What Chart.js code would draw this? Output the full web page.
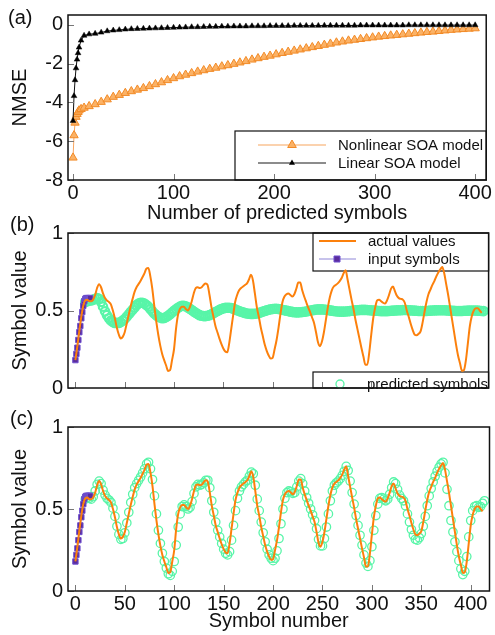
<!DOCTYPE html>
<html lang="en">
<head>
<meta charset="UTF-8">
<title>SOA model symbol prediction</title>
<script src="https://cdn.jsdelivr.net/npm/chart.js"></script>
<style>
  body { margin: 0; background: #fff; }
  #wrap { position: relative; width: 495px; height: 635px; overflow: hidden; }
  .panel { position: absolute; left: 0; }
  .tag { position: absolute; font: 20px "Liberation Sans", Arial, sans-serif; line-height: 20px; color: #111; }
</style>
</head>
<body>
<div id="wrap">
  <canvas id="chartA" class="panel" style="top:0" width="495" height="226"></canvas>
  <canvas id="chartB" class="panel" style="top:218px" width="495" height="185"></canvas>
  <canvas id="chartC" class="panel" style="top:412px" width="495" height="223"></canvas>
  <div class="tag" style="left:8px;top:7px">(a)</div>
  <div class="tag" style="left:10px;top:214px">(b)</div>
  <div class="tag" style="left:10px;top:408px">(c)</div>
</div>
<script>
// ---- panel (a): NMSE vs number of predicted symbols ----
const nmseX = [0, 1, 2, 3, 4, 5, 6, 8, 11,
  16, 22, 28, 34, 40, 46, 52, 58, 64, 70, 76, 82, 88, 94, 100, 106, 112, 118, 124, 130,
  136, 142, 148, 154, 160, 166, 172, 178, 184, 190, 196, 202, 208, 214, 220, 226, 232, 238, 244, 250,
  256, 262, 268, 274, 280, 286, 292, 298, 304, 310, 316, 322, 328, 334, 340, 346, 352, 358, 364, 370,
  376, 382, 388, 394, 400];
const nonlinearNmse = [-6.85, -5.7, -5.05, -4.75, -4.6, -4.5, -4.42, -4.35, -4.28,
  -4.2, -4.1, -3.98, -3.85, -3.72, -3.62, -3.52, -3.43, -3.35, -3.27,
  -3.17, -3.07, -2.97, -2.86, -2.76, -2.66, -2.58, -2.5, -2.42, -2.35,
  -2.28, -2.22, -2.15, -2.09, -2.02, -1.95, -1.88, -1.8, -1.73, -1.66,
  -1.6, -1.53, -1.46, -1.4, -1.34, -1.28, -1.22, -1.16, -1.1, -1.04,
  -0.98, -0.92, -0.87, -0.82, -0.78, -0.74, -0.7, -0.66, -0.62, -0.59,
  -0.56, -0.53, -0.5, -0.47, -0.44, -0.41, -0.38, -0.36, -0.33, -0.3,
  -0.27, -0.25, -0.23, -0.21, -0.19];
const linearNmse = [-4.95, -3.67, -2.85, -2.24, -1.79, -1.46, -1.17, -0.81, -0.56,
  -0.49, -0.46, -0.4, -0.33, -0.29, -0.27, -0.24, -0.22, -0.21, -0.2,
  -0.19, -0.18, -0.17, -0.16, -0.15, -0.14, -0.13, -0.12, -0.12, -0.11,
  -0.1, -0.1, -0.09, -0.09, -0.08, -0.08, -0.08, -0.07, -0.07, -0.07,
  -0.06, -0.06, -0.06, -0.06, -0.05, -0.05, -0.05, -0.05, -0.05, -0.04,
  -0.04, -0.04, -0.04, -0.04, -0.04, -0.03, -0.03, -0.03, -0.03, -0.03,
  -0.03, -0.03, -0.03, -0.02, -0.02, -0.02, -0.02, -0.02, -0.02, -0.02,
  -0.02, -0.02, -0.02, -0.02, -0.02];
const nmseXTicks = [0, 100, 200, 300, 400];
const nmseYTicks = [-8, -6, -4, -2, 0];

// ---- panels (b) and (c): symbol values ----
// actual values, every 2nd symbol starting at symbol 0
const actualValues = [
  0.18, 0.27, 0.37, 0.46, 0.53, 0.565, 0.57, 0.56, 0.56, 0.57,
  0.60, 0.645, 0.67, 0.65, 0.61, 0.58, 0.565, 0.555, 0.54, 0.50,
  0.45, 0.39, 0.345, 0.32, 0.33, 0.36, 0.415, 0.47, 0.525, 0.575,
  0.62, 0.65, 0.67, 0.69, 0.715, 0.74, 0.77, 0.775, 0.72, 0.64,
  0.53, 0.43, 0.345, 0.275, 0.22, 0.18, 0.145, 0.11, 0.115, 0.18,
  0.25, 0.38, 0.47, 0.51, 0.525, 0.525, 0.51, 0.50, 0.52, 0.56,
  0.61, 0.645, 0.65, 0.645, 0.65, 0.665, 0.675, 0.665, 0.60, 0.52,
  0.46, 0.40, 0.36, 0.32, 0.285, 0.255, 0.235, 0.23, 0.29, 0.38,
  0.47, 0.555, 0.60, 0.63, 0.645, 0.655, 0.665, 0.675, 0.70, 0.73,
  0.695, 0.61, 0.52, 0.46, 0.39, 0.335, 0.28, 0.24, 0.21, 0.19,
  0.195, 0.25, 0.31, 0.39, 0.48, 0.555, 0.59, 0.605, 0.61, 0.60,
  0.59, 0.605, 0.64, 0.68, 0.68, 0.63, 0.59, 0.555, 0.52, 0.49,
  0.455, 0.42, 0.36, 0.295, 0.27, 0.30, 0.36, 0.44, 0.52, 0.585,
  0.63, 0.655, 0.665, 0.675, 0.69, 0.71, 0.74, 0.76, 0.70, 0.635,
  0.57, 0.51, 0.44, 0.38, 0.32, 0.26, 0.205, 0.15, 0.15, 0.23,
  0.345, 0.45, 0.52, 0.565, 0.57, 0.56, 0.55, 0.545, 0.565, 0.60,
  0.64, 0.655, 0.625, 0.595, 0.58, 0.575, 0.57, 0.55, 0.50, 0.46,
  0.415, 0.375, 0.345, 0.34, 0.35, 0.365, 0.42, 0.49, 0.555, 0.605,
  0.635, 0.665, 0.69, 0.72, 0.745, 0.765, 0.78, 0.74, 0.67, 0.60,
  0.52, 0.44, 0.36, 0.28, 0.21, 0.16, 0.11, 0.115, 0.18, 0.29,
  0.40, 0.465, 0.50, 0.515, 0.515, 0.50, 0.485];
// input symbols, symbols 0..15
const inputSymbols = [0.18, 0.22, 0.26, 0.31, 0.36, 0.40, 0.45, 0.49, 0.53, 0.56, 0.575, 0.58, 0.58, 0.58, 0.58, 0.58];
// predicted symbols, every 2nd symbol starting at symbol 10
const predictedB = [
  0.555, 0.56, 0.565, 0.565, 0.57, 0.575, 0.58, 0.575, 0.555, 0.525,
  0.495, 0.47, 0.45, 0.435, 0.425, 0.42, 0.42, 0.42, 0.425, 0.435,
  0.445, 0.46, 0.475, 0.49, 0.505, 0.52, 0.535, 0.545, 0.55, 0.55,
  0.545, 0.535, 0.525, 0.51, 0.495, 0.48, 0.47, 0.46, 0.455, 0.45,
  0.452, 0.458, 0.466, 0.476, 0.487, 0.498, 0.508, 0.518, 0.525, 0.53,
  0.53, 0.527, 0.52, 0.512, 0.503, 0.494, 0.485, 0.477, 0.47, 0.466,
  0.464, 0.464, 0.466, 0.47, 0.476, 0.483, 0.49, 0.497, 0.504, 0.51,
  0.514, 0.517, 0.518, 0.518, 0.516, 0.512, 0.507, 0.502, 0.497, 0.492,
  0.488, 0.484, 0.481, 0.479, 0.478, 0.478, 0.479, 0.481, 0.484, 0.488,
  0.493, 0.497, 0.501, 0.505, 0.508, 0.51, 0.511, 0.511, 0.51, 0.508,
  0.505, 0.502, 0.499, 0.496, 0.493, 0.491, 0.489, 0.488, 0.488, 0.489,
  0.49, 0.492, 0.494, 0.497, 0.5, 0.502, 0.504, 0.506, 0.507, 0.507,
  0.507, 0.506, 0.505, 0.503, 0.501, 0.499, 0.497, 0.495, 0.494, 0.493,
  0.493, 0.493, 0.494, 0.495, 0.496, 0.498, 0.499, 0.501, 0.502, 0.503,
  0.504, 0.504, 0.504, 0.503, 0.502, 0.501, 0.5, 0.499, 0.498, 0.497,
  0.496, 0.496, 0.496, 0.496, 0.497, 0.498, 0.499, 0.5, 0.501, 0.502,
  0.502, 0.503, 0.503, 0.503, 0.502, 0.501, 0.5, 0.499, 0.498, 0.497,
  0.497, 0.497, 0.497, 0.497, 0.498, 0.499, 0.5, 0.501, 0.501, 0.502,
  0.502, 0.502, 0.502, 0.501, 0.5, 0.499, 0.498, 0.498, 0.497, 0.497,
  0.497, 0.497, 0.498, 0.498, 0.499, 0.5, 0.5, 0.5, 0.5, 0.499,
  0.498, 0.497, 0.496];
const predictedC = [
  0.56, 0.57, 0.565, 0.56, 0.575, 0.61, 0.65, 0.67, 0.655, 0.615,
  0.585, 0.565, 0.555, 0.54, 0.505, 0.455, 0.395, 0.345, 0.315, 0.32,
  0.355, 0.415, 0.48, 0.54, 0.59, 0.63, 0.655, 0.675, 0.695, 0.72,
  0.745, 0.775, 0.785, 0.745, 0.68, 0.58, 0.47, 0.37, 0.29, 0.23,
  0.18, 0.14, 0.105, 0.095, 0.12, 0.18, 0.28, 0.39, 0.47, 0.515,
  0.525, 0.515, 0.50, 0.51, 0.545, 0.595, 0.635, 0.65, 0.645, 0.65,
  0.66, 0.675, 0.675, 0.63, 0.55, 0.48, 0.42, 0.37, 0.33, 0.29,
  0.255, 0.23, 0.22, 0.24, 0.31, 0.40, 0.49, 0.565, 0.61, 0.635,
  0.65, 0.665, 0.675, 0.70, 0.725, 0.715, 0.645, 0.56, 0.49, 0.42,
  0.355, 0.30, 0.255, 0.22, 0.20, 0.185, 0.20, 0.245, 0.32, 0.41,
  0.50, 0.565, 0.60, 0.61, 0.605, 0.595, 0.60, 0.635, 0.67, 0.685,
  0.655, 0.61, 0.57, 0.535, 0.50, 0.465, 0.43, 0.38, 0.315, 0.275,
  0.275, 0.32, 0.39, 0.47, 0.55, 0.61, 0.645, 0.66, 0.67, 0.685,
  0.705, 0.73, 0.76, 0.735, 0.67, 0.60, 0.53, 0.46, 0.40, 0.34,
  0.28, 0.22, 0.17, 0.15, 0.185, 0.27, 0.37, 0.46, 0.53, 0.565,
  0.57, 0.56, 0.55, 0.56, 0.59, 0.63, 0.665, 0.655, 0.62, 0.585,
  0.565, 0.55, 0.52, 0.47, 0.42, 0.375, 0.34, 0.315, 0.31, 0.325,
  0.35, 0.395, 0.455, 0.52, 0.58, 0.625, 0.665, 0.70, 0.73, 0.755,
  0.775, 0.785, 0.72, 0.62, 0.52, 0.43, 0.36, 0.30, 0.24, 0.185,
  0.135, 0.10, 0.12, 0.21, 0.33, 0.43, 0.49, 0.515, 0.52, 0.51,
  0.515, 0.535, 0.55];
const symbolTicks = [0, 50, 100, 150, 200, 250, 300, 350, 400];
const valueTicks = [0, 0.5, 1];

const FONT = '"Liberation Sans", Arial, sans-serif';
const ORANGE = '#fc800c';
const GREEN = '#58f5a8';

const pts = (vals, start, step) => vals.map((v, i) => ({ x: start + i * step, y: v }));

function mark(ctx, style, x, y, r, fill, stroke, lw) {
  ctx.beginPath();
  if (style === 'triangle') {
    ctx.moveTo(x, y - r);
    ctx.lineTo(x + r * 0.866, y + r / 2);
    ctx.lineTo(x - r * 0.866, y + r / 2);
    ctx.closePath();
  } else if (style === 'rect') {
    ctx.rect(x - r, y - r, 2 * r, 2 * r);
  } else {
    ctx.arc(x, y, r, 0, Math.PI * 2);
  }
  if (fill) { ctx.fillStyle = fill; ctx.fill(); }
  if (stroke) { ctx.strokeStyle = stroke; ctx.lineWidth = lw || 1; ctx.stroke(); }
}

// frame, inward tick marks and hand placed legend boxes
const frame = {
  id: 'frame',
  beforeDatasetsDraw(chart, args, opts) {
    const ctx = chart.ctx, a = chart.chartArea;
    ctx.save();
    (opts.boxes || []).forEach(b => {
      ctx.strokeStyle = '#111';
      ctx.lineWidth = 1.2;
      ctx.strokeRect(b.x0, b.y0 ?? a.top, a.right - b.x0, (b.y1 ?? a.bottom) - (b.y0 ?? a.top));
      b.items.forEach(it => {
        if (it.line) {
          ctx.strokeStyle = it.line;
          ctx.lineWidth = it.lw || 1;
          ctx.beginPath();
          ctx.moveTo(it.l0, it.y);
          ctx.lineTo(it.l1, it.y);
          ctx.stroke();
        }
        if (it.style) mark(ctx, it.style, it.mx, it.y, it.r, it.fill, it.stroke, it.mlw);
        ctx.fillStyle = '#111';
        ctx.font = (b.size || 15) + 'px ' + FONT;
        ctx.textBaseline = 'middle';
        ctx.textAlign = 'left';
        ctx.fillText(it.text, it.tx, it.y + 1);
      });
    });
    ctx.restore();
  },
  afterDatasetsDraw(chart) {
    const ctx = chart.ctx, a = chart.chartArea;
    const x = chart.scales.x, y = chart.scales.y;
    ctx.save();
    ctx.strokeStyle = '#777';
    ctx.lineWidth = 1;
    ctx.beginPath();
    x.ticks.forEach(t => {
      const px = Math.round(x.getPixelForValue(t.value)) + 0.5;
      ctx.moveTo(px, a.bottom);
      ctx.lineTo(px, a.bottom - 6);
    });
    y.ticks.forEach(t => {
      const py = Math.round(y.getPixelForValue(t.value)) + 0.5;
      ctx.moveTo(a.left, py);
      ctx.lineTo(a.left + 6, py);
    });
    ctx.stroke();
    ctx.strokeStyle = '#111';
    ctx.lineWidth = 1.5;
    ctx.strokeRect(a.left, a.top, a.right - a.left, a.bottom - a.top);
    ctx.restore();
  }
};

function axes(o) {
  return {
    x: {
      type: 'linear', min: o.xmin, max: o.xmax,
      grid: { display: false, drawTicks: false }, border: { display: false },
      afterBuildTicks: s => { s.ticks = o.xticks.map(v => ({ value: v })); },
      afterFit: s => { s.height = o.xh; },
      ticks: { display: o.xlabels, color: '#111', padding: 3, maxRotation: 0, autoSkip: false,
               callback: v => String(v), font: { family: FONT, size: 20, lineHeight: 1 } },
      title: { display: !!o.xtitle, text: o.xtitle, color: '#111', padding: { top: 0, bottom: o.tpad || 0 },
               font: { family: FONT, size: 20, lineHeight: 1.2 } }
    },
    y: {
      min: o.ymin, max: o.ymax,
      grid: { display: false, drawTicks: false }, border: { display: false },
      afterBuildTicks: s => { s.ticks = o.yticks.map(v => ({ value: v })); },
      afterFit: s => { s.width = 68; },
      ticks: { color: '#111', padding: 5, callback: v => String(v),
               font: { family: FONT, size: 20, lineHeight: 1 } },
      title: { display: true, text: o.ytitle, color: '#111', padding: { top: 8, bottom: 0 },
               font: { family: FONT, size: 20, lineHeight: 1.2 } }
    }
  };
}

const base = {
  responsive: false,
  animation: false,
  events: [],
  plugins: { legend: { display: false }, tooltip: { enabled: false } }
};

// (a)
new Chart(document.getElementById('chartA'), {
  type: 'line',
  data: {
    datasets: [
      { data: nmseX.map((v, i) => ({ x: v, y: nonlinearNmse[i] })), borderColor: '#f8a55e', borderWidth: 1,
        pointStyle: 'triangle', pointRadius: 4.8, pointBackgroundColor: '#fbb266', pointBorderColor: '#f28a26',
        pointBorderWidth: 1, order: 2 },
      { data: nmseX.map((v, i) => ({ x: v, y: linearNmse[i] })), borderColor: '#111', borderWidth: 1,
        pointStyle: 'triangle', pointRadius: 3.3, pointBackgroundColor: '#000', pointBorderColor: '#000',
        pointBorderWidth: 0.5, order: 1 }
    ]
  },
  options: Object.assign({}, base, {
    layout: { padding: { top: 8, right: 6, left: 0, bottom: 0 } },
    plugins: Object.assign({}, base.plugins, {
      frame: { boxes: [{ x0: 235, y0: 131, size: 15, items: [
        { y: 145, text: 'Nonlinear SOA model', line: '#f8a55e', lw: 1.2, l0: 258, l1: 326,
          style: 'triangle', mx: 292, r: 5, fill: '#fbb266', stroke: '#f28a26', tx: 338 },
        { y: 163, text: 'Linear SOA model', line: '#666', lw: 1.5, l0: 258, l1: 326,
          style: 'triangle', mx: 292, r: 3.5, fill: '#000', tx: 338 }
      ] }] }
    }),
    scales: axes({ xmin: -5, xmax: 411, xticks: nmseXTicks, xh: 46, xlabels: true,
                   xtitle: 'Number of predicted symbols', tpad: 1,
                   ymin: -8, ymax: 0.5, yticks: nmseYTicks, ytitle: 'NMSE' })
  }),
  plugins: [frame]
});

function symbolSets(pred, ringWidth) {
  return [
    { data: pts(actualValues, 0, 2), borderColor: ORANGE, borderWidth: 2, pointRadius: 0,
      cubicInterpolationMode: 'monotone', order: 1 },
    { data: pts(inputSymbols, 0, 1), borderColor: '#8f86d8', borderWidth: 1, pointStyle: 'rect',
      pointRadius: 3.8, pointBackgroundColor: '#5a2c9e', pointBorderColor: '#6e4fce', pointBorderWidth: 1, order: 2 },
    { data: pts(pred, 10, 2), showLine: false, pointStyle: 'circle', pointRadius: 4.2,
      pointBackgroundColor: 'rgba(0,0,0,0)', pointBorderColor: GREEN, pointBorderWidth: ringWidth, order: 3 }
  ];
}

// (b)
new Chart(document.getElementById('chartB'), {
  type: 'line',
  data: { datasets: symbolSets(predictedB, 2.2) },
  options: Object.assign({}, base, {
    layout: { padding: { top: 8, right: 1.5, left: 0, bottom: 0 } },
    plugins: Object.assign({}, base.plugins, {
      frame: { boxes: [
        { x0: 313, y1: 53, size: 15, items: [
          { y: 23, text: 'actual values', line: ORANGE, lw: 2, l0: 319, l1: 356, tx: 368 },
          { y: 41, text: 'input symbols', line: '#8f86d8', lw: 1, l0: 319, l1: 356,
            style: 'rect', mx: 337, r: 3, fill: '#5a2c9e', stroke: '#6e4fce', tx: 368 }
        ] },
        { x0: 313, y0: 154, size: 15, items: [
          { y: 166, text: 'predicted symbols', style: 'circle', mx: 340, r: 4, fill: '#fff',
            stroke: GREEN, mlw: 1.3, tx: 367 }
        ] }
      ] }
    }),
    scales: axes({ xmin: -7.5, xmax: 419, xticks: symbolTicks, xh: 5, xlabels: false,
                   ymin: 0, ymax: 1, yticks: valueTicks, ytitle: 'Symbol value' })
  }),
  plugins: [frame]
});

// (c)
new Chart(document.getElementById('chartC'), {
  type: 'line',
  data: { datasets: symbolSets(predictedC, 1.3) },
  options: Object.assign({}, base, {
    layout: { padding: { top: 7, right: 1.5, left: 0, bottom: 0 } },
    scales: axes({ xmin: -7.5, xmax: 419, xticks: symbolTicks, xh: 44, xlabels: true,
                   xtitle: 'Symbol number', tpad: 2,
                   ymin: 0, ymax: 1, yticks: valueTicks, ytitle: 'Symbol value' })
  }),
  plugins: [frame]
});
</script>
</body>
</html>
